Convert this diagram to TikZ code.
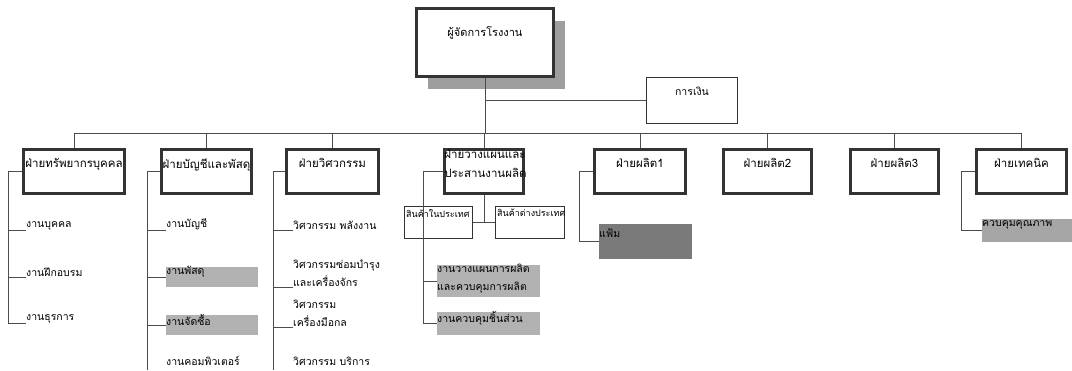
\documentclass[tikz,border=0pt]{standalone}
\usepackage{fontspec}
\newfontfamily\thai[Script=Thai]{Loma}
\usetikzlibrary{shadows}
\tikzset{conn/.style={draw=black!70, line width=.9pt}}
\tikzset{deptbox/.style={draw=black!80, line width=2.6pt, fill=white, inner sep=0pt, minimum height=44pt}}
\tikzset{depttitle/.style={anchor=north, inner sep=0pt, yshift=-10pt, font=\thai\fontsize{11.5}{19}\selectfont}}
\tikzset{thinbox/.style={draw=black!80, line width=1.1pt, fill=white, inner sep=0pt}}
\tikzset{item/.style={anchor=south west, inner sep=0pt, align=left, font=\thai\fontsize{10.5}{18}\selectfont}}
\tikzset{greybox/.style={fill=black!30, inner sep=0pt, anchor=north west}}
\tikzset{boxtext/.style={anchor=north west, inner sep=0pt, yshift=1pt, align=left, font=\thai\fontsize{10.5}{18}\selectfont}}
\tikzset{smalltext/.style={anchor=north west, inner sep=0pt, font=\thai\fontsize{9}{14}\selectfont}}
\newcommand{\dept}[4]{\node[deptbox, minimum width=#3pt] (#1) at (#2,171.5) {};
  \node[depttitle] (#1-title) at (#1.north) {#4};}

\begin{document}
\begin{tikzpicture}[x=1pt, y=-1pt]
  \useasboundingbox (0,0) rectangle (1072,370);

  % --- top: manager and finance ---
  \node[deptbox, minimum width=137pt, minimum height=68pt,
        drop shadow={shadow xshift=11pt, shadow yshift=-12pt, fill=black!38, opacity=1}] (mgr) at (485,42.5) {};
  \node[depttitle, yshift=-9pt, font=\thai\fontsize{11}{18}\selectfont] (mgr-title) at (mgr.north) {ผู้จัดการโรงงาน};
  \node[thinbox, minimum width=91pt, minimum height=46pt] (fin) at (692,100.5) {};
  \node[depttitle, font=\thai\fontsize{10.5}{18}\selectfont] (fin-title) at (fin.north) {การเงิน};

  % --- departments ---
  \dept{hr}{74}{101}{ฝ่ายทรัพยากรบุคคล}
  \dept{acc}{206.5}{90}{ฝ่ายบัญชีและพัสดุ}
  \dept{eng}{332.5}{92}{ฝ่ายวิศวกรรม}
  \node[deptbox, minimum width=79pt] (plan) at (484,171.5) {};
  \node[depttitle, anchor=north west, yshift=9pt, xshift=1pt, align=left] (plan-title) at (plan.north west) {ฝ่ายวางแผนและ\\ประสานงานผลิต};
  \dept{prod1}{640}{91}{ฝ่ายผลิต1}
  \dept{prod2}{767.5}{88}{ฝ่ายผลิต2}
  \dept{prod3}{894.5}{88}{ฝ่ายผลิต3}
  \dept{tech}{1021.5}{90}{ฝ่ายเทคนิค}

  \coordinate (bus) at (0,133);
  \draw[conn] (hr.north) -- (hr.north |- bus) -- (tech.north |- bus) -- (tech.north);
  \foreach \d in {acc,eng,plan,prod1,prod2,prod3}
    \draw[conn] (\d.north) -- (\d.north |- bus);
  \draw[conn] (mgr.south) -- (mgr.south |- bus);
  \draw[conn] (mgr.south |- fin.west) -- (fin.west);

  % --- human resources ---
  \coordinate (hr-end) at (8,323);
  \draw[conn] (hr.west) -| (hr-end);
  \node[item] (hr1) at (26,230) {งานบุคคล};
  \node[item] (hr2) at (26,277) {งานฝึกอบรม};
  \node[item] (hr3) at (26,323) {งานธุรการ};
  \foreach \i in {hr1,hr2,hr3}
    \draw[conn] (\i.south west -| hr-end) -- (\i.south west);

  % --- accounting and supplies ---
  \coordinate (acc-end) at (147,370);
  \draw[conn] (acc.west) -| (acc-end);
  \node[item] (acc1) at (166,230) {งานบัญชี};
  \node[greybox, minimum width=92pt, minimum height=20pt] (acc2) at (166,267) {};
  \node[boxtext] (acc2-t) at (acc2.north west) {งานพัสดุ};
  \node[greybox, minimum width=92pt, minimum height=20pt] (acc3) at (166,315) {};
  \node[boxtext] (acc3-t) at (acc3.north west) {งานจัดซื้อ};
  \node[item] (acc4) at (166,366) {งานคอมพิวเตอร์};
  \draw[conn] (acc1.south west -| acc-end) -- (acc1.south west);
  \foreach \i in {acc2,acc3}
    \draw[conn] (\i.west -| acc-end) -- (\i.west);

  % --- engineering ---
  \coordinate (eng-end) at (273,370);
  \draw[conn] (eng.west) -| (eng-end);
  \node[item] (eng1) at (293,230) {วิศวกรรม พลังงาน};
  \node[item] (eng2) at (293,287) {วิศวกรรมซ่อมบำรุง\\และเครื่องจักร};
  \node[item] (eng3) at (293,327) {วิศวกรรม\\เครื่องมือกล};
  \node[item] (eng4) at (293,366) {วิศวกรรม บริการ};
  \foreach \i in {eng1,eng2,eng3}
    \draw[conn] (\i.south west -| eng-end) -- (\i.south west);

  % --- planning ---
  \node[thinbox, minimum width=68pt, minimum height=32pt] (dom) at (438.5,222.5) {};
  \node[smalltext] (dom-t) at ([shift={(2pt,-3pt)}]dom.north west) {สินค้าในประเทศ};
  \node[thinbox, minimum width=69pt, minimum height=32pt] (exp) at (530,222.5) {};
  \node[smalltext] (exp-t) at ([shift={(2pt,-3pt)}]exp.north west) {สินค้าต่างประเทศ};
  \draw[conn] (plan.south) -- (plan.south |- dom.east);
  \draw[conn] (dom.east) -- (exp.west);
  \coordinate (plan-end) at (423,323.5);
  \draw[conn] (plan.west) -| (plan-end);
  \node[greybox, minimum width=103pt, minimum height=32pt] (plan1) at (437,265) {};
  \node[boxtext] (plan1-t) at (plan1.north west) {งานวางแผนการผลิต\\และควบคุมการผลิต};
  \node[greybox, minimum width=103pt, minimum height=23pt] (plan2) at (437,312) {};
  \node[boxtext] (plan2-t) at (plan2.north west) {งานควบคุมชิ้นส่วน};
  \foreach \i in {plan1,plan2}
    \draw[conn] (\i.west -| plan-end) -- (\i.west);

  % --- production 1 ---
  \node[greybox, fill=black!52, minimum width=93pt, minimum height=35pt] (file) at (599,224) {};
  \node[boxtext, yshift=-6pt] (file-t) at (file.north west) {แฟ้ม};
  \draw[conn] (prod1.west) -- ++(-14,0) |- (file.west);

  % --- technical ---
  \node[greybox, fill=black!35, minimum width=90pt, minimum height=23pt] (qc) at (982,219) {};
  \node[boxtext, yshift=-2pt] (qc-t) at (qc.north west) {ควบคุมคุณภาพ};
  \draw[conn] (tech.west) -- ++(-14,0) |- (qc.west);
\end{tikzpicture}
\end{document}
